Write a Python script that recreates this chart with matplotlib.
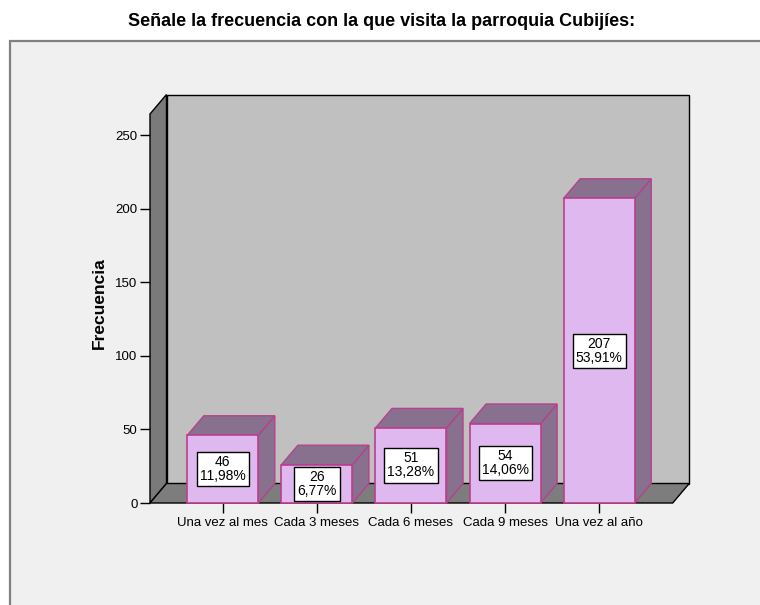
import matplotlib
matplotlib.use("Agg")
import matplotlib.pyplot as plt
from matplotlib.patches import Polygon, Rectangle

plt.rcParams['font.family'] = ['Liberation Sans', 'DejaVu Sans']

# datos
categorias = ["Una vez al mes", "Cada 3 meses", "Cada 6 meses", "Cada 9 meses", "Una vez al año"]
frecuencias = [46, 26, 51, 54, 207]
y_ticks = [0, 50, 100, 150, 200, 250]
titulo = "Señale la frecuencia con la que visita la parroquia Cubijíes:"

total = sum(frecuencias)
porcentajes = [("%.2f%%" % (f * 100.0 / total)).replace(".", ",") for f in frecuencias]

W, H = 760, 605
fig = plt.figure(figsize=(W / 100, H / 100), dpi=100)
fig.patch.set_facecolor("white")

# marco gris del grafico
fig.patches.append(Rectangle((10 / W, -0.1), 1.2, 1.1 - 41 / H, transform=fig.transFigure,
                             facecolor="#f0f0f0", edgecolor="#808080", linewidth=1.6, zorder=0))

fig.text(382 / W, 1 - 21 / H, titulo, ha="center", va="center", fontsize=13, fontweight="bold")

# ejes: el plano frontal
x0_px, x1_px, y0_px, y1_px = 150, 672.7, 503, 135
ax = fig.add_axes([x0_px / W, 1 - y0_px / H, (x1_px - x0_px) / W, (y0_px - y1_px) / H])
ax.set_zorder(3)
ax.patch.set_visible(False)
for s in ax.spines.values():
    s.set_visible(False)

paso = 94.1
xl = (x0_px - 222.8) / paso
xr = (x1_px - 222.8) / paso
ax.set_xlim(xl, xr)
ax.set_ylim(0, 250)

# profundidad 3D en pixeles -> datos
px_x = (x1_px - x0_px) / (xr - xl)
px_y = (y0_px - y1_px) / 250.0
ddx = 16.5 / px_x
ddy = 19.5 / px_y
ytop = (y0_px - 114) / px_y


def poly(pts, fc, ec, lw=1.0, z=1):
    p = Polygon(pts, closed=True, facecolor=fc, edgecolor=ec, linewidth=lw, zorder=z, clip_on=False)
    ax.add_patch(p)


# paredes y piso
poly([(xl + ddx, ddy), (xr + ddx, ddy), (xr + ddx, ytop + ddy), (xl + ddx, ytop + ddy)], "#c0c0c0", "black", 1.0, 1)
poly([(xl, 0), (xl, ytop), (xl + ddx, ytop + ddy), (xl + ddx, ddy)], "#7a7a7a", "black", 1.0, 1)
poly([(xl, 0), (xr, 0), (xr + ddx, ddy), (xl + ddx, ddy)], "#7d7d7d", "black", 1.0, 1)

hw = 35.5 / px_x
frente = "#dfb8f0"
lado = "#88718f"
borde = "#b8408c"
for i, v in enumerate(frecuencias):
    poly([(i + hw, 0), (i + hw + ddx, ddy), (i + hw + ddx, v + ddy), (i + hw, v)], lado, borde, 1.0, 2)
    poly([(i - hw, v), (i + hw, v), (i + hw + ddx, v + ddy), (i - hw + ddx, v + ddy)], lado, borde, 1.0, 2)
    poly([(i - hw, 0), (i + hw, 0), (i + hw, v), (i - hw, v)], frente, borde, 1.2, 3)
    ax.text(i, v / 2.0, "%d\n%s" % (v, porcentajes[i]), ha="center", va="center", fontsize=10,
            linespacing=1.0, zorder=5,
            bbox=dict(boxstyle="square,pad=0.22", facecolor="white", edgecolor="black", linewidth=1.0))

ax.set_xticks(range(len(categorias)))
ax.set_xticklabels(categorias, fontsize=9.5)
ax.set_yticks(y_ticks)
ax.set_yticklabels([str(t) for t in y_ticks], fontsize=9.5)
ax.tick_params(axis="both", direction="out", length=7, width=1.0, color="black", pad=2)
ax.tick_params(axis="x", pad=3)

ax.set_ylabel("Frecuencia", fontsize=12.5, fontweight="bold")
ax.yaxis.set_label_coords((107 - x0_px) / (x1_px - x0_px), (y0_px - 303) / (y0_px - y1_px))

fig.savefig("out.png", dpi=100)
